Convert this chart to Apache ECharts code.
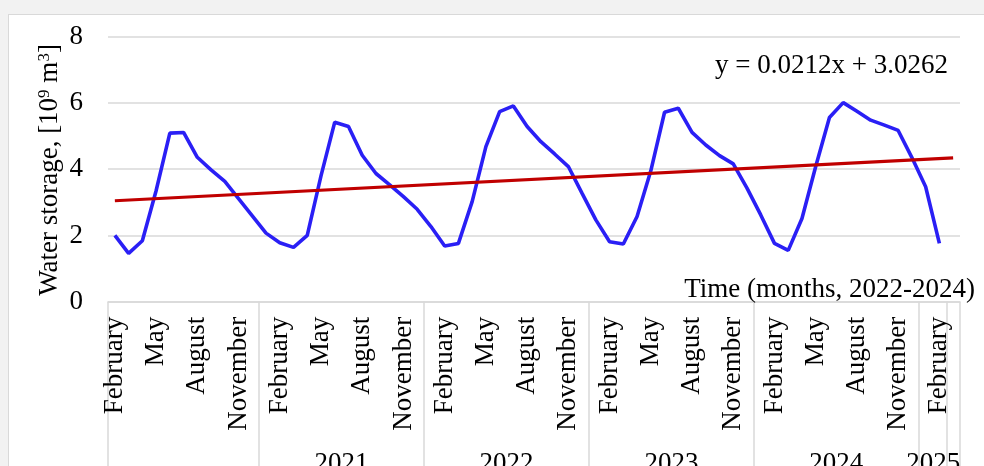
<!DOCTYPE html>
<html>
<head>
<meta charset="utf-8">
<script src="https://cdn.jsdelivr.net/npm/echarts@6/dist/echarts.min.js"></script>
<style>
  html, body { margin: 0; padding: 0; width: 984px; height: 466px; overflow: hidden; background: #f2f2f2; }
  #chart { position: absolute; left: 8px; top: 14px; width: 976px; height: 452px; background: #fff;
           border-left: 1px solid #d9d9d9; border-top: 1px solid #d9d9d9; box-sizing: border-box; }
</style>
</head>
<body>
<div id="chart"></div>
<script>
// Monthly categories (the last slot is the trendline's one-period forward forecast)
const categories = [
  'February','March','April','May','June','July','August','September','October','November','December',
  'January','February','March','April','May','June','July','August','September','October','November','December',
  'January','February','March','April','May','June','July','August','September','October','November','December',
  'January','February','March','April','May','June','July','August','September','October','November','December',
  'January','February','March','April','May','June','July','August','September','October','November','December',
  'January','February','March'
];

// Year groups on the second label row: first category index of each group
const yearLabels = ['', '2021', '2022', '2023', '2024', '2025'];
const yearStarts = [0, 11, 23, 35, 47, 59];

// Water storage, 10^9 m^3
const storage = [
  2.00, 1.46, 1.84, 3.35, 5.09, 5.11, 4.36, 3.98, 3.63, 3.11, 2.59,
  2.07, 1.78, 1.64, 2.00, 3.80, 5.42, 5.29, 4.42, 3.87, 3.53, 3.17, 2.79,
  2.27, 1.68, 1.76, 3.02, 4.68, 5.74, 5.91, 5.29, 4.83, 4.46, 4.08, 3.27,
  2.47, 1.81, 1.74, 2.57, 3.95, 5.72, 5.84, 5.11, 4.73, 4.41, 4.16, 3.43,
  2.62, 1.76, 1.55, 2.51, 4.08, 5.56, 6.01, 5.75, 5.48, 5.33, 5.17, 4.35,
  3.47, 1.76, null
];

// Linear trendline y = a*x + b (x = 1 for the first month)
const trendSlope = 0.0212;
const trendIntercept = 3.0262;

const yTicks = { min: 0, max: 8, interval: 2 };

const FONT = '"Liberation Serif", "Times New Roman", serif';
const FONT_SIZE = 27;
const GRID_COLOR = '#d9d9d9';

const n = categories.length;
const trend = categories.map(() => null);
trend[0] = trendSlope * 1 + trendIntercept;
trend[n - 1] = trendSlope * n + trendIntercept;

// Boundaries of the year groups, plus the forecast slot and the axis end
const groupTicks = yearStarts.concat([n - 1, n]);
// Centre of each year group; the last label is kept inside the axis end
const yearLabelPos = yearStarts.map((s, i) => {
  const e = i + 1 < yearStarts.length ? yearStarts[i + 1] : n;
  return Math.min((s + e) / 2, n - 1.95);
});

const chart = echarts.init(document.getElementById('chart'), null, { renderer: 'canvas' });

chart.setOption({
  animation: false,
  backgroundColor: '#fff',
  grid: { left: 99, right: 24, top: 21.7, bottom: 164.3, containLabel: false, outerBoundsMode: 'none' },
  xAxis: [
    {
      type: 'category',
      data: categories,
      boundaryGap: true,
      axisLine: { show: true, lineStyle: { color: GRID_COLOR, width: 1.5 } },
      axisTick: { show: false },
      axisLabel: {
        rotate: 90,
        margin: 15,
        fontSize: FONT_SIZE,
        fontFamily: FONT,
        color: '#000',
        interval: (idx) => idx % 3 === 0 && idx < n - 1
      },
      splitLine: { show: false }
    },
    {
      type: 'value',
      min: 0,
      max: n,
      position: 'bottom',
      axisLine: { show: false },
      splitLine: { show: false },
      axisTick: {
        show: true,
        customValues: groupTicks,
        length: 165,
        lineStyle: { color: GRID_COLOR, width: 1.5 }
      },
      axisLabel: {
        customValues: yearLabelPos,
        margin: 149,
        fontSize: FONT_SIZE,
        fontFamily: FONT,
        color: '#000',
        formatter: (v) => {
          const i = yearLabelPos.findIndex(p => Math.abs(p - v) < 1e-6);
          return i >= 0 ? yearLabels[i] : '';
        }
      }
    }
  ],
  yAxis: {
    type: 'value',
    min: yTicks.min,
    max: yTicks.max,
    interval: yTicks.interval,
    axisLine: { show: false },
    axisTick: { show: false },
    axisLabel: { fontSize: FONT_SIZE, fontFamily: FONT, color: '#000', margin: 25 },
    splitLine: { lineStyle: { color: GRID_COLOR, width: 1.5 } }
  },
  title: {
    text: 'Time (months, 2022-2024)',
    right: 9,
    top: 261,
    padding: 0,
    textStyle: { fontSize: FONT_SIZE, fontFamily: FONT, fontWeight: 'normal', color: '#000' }
  },
  graphic: [
    {
      type: 'text',
      right: 36,
      top: 37,
      style: {
        text: 'y = ' + trendSlope.toFixed(4) + 'x + ' + trendIntercept.toFixed(4),
        fontSize: FONT_SIZE,
        fontFamily: FONT,
        fill: '#000'
      }
    },
    {
      type: 'text',
      x: 41,
      y: 155,
      rotation: Math.PI / 2,
      style: {
        text: 'Water storage, [10{sup|9} m{sup|3}]',
        fontSize: FONT_SIZE,
        fontFamily: FONT,
        fill: '#000',
        align: 'center',
        verticalAlign: 'middle',
        rich: {
          sup: { fontSize: 17, fontFamily: FONT, fill: '#000', verticalAlign: 'top' }
        }
      }
    }
  ],
  series: [
    {
      name: 'Water storage',
      type: 'line',
      data: storage,
      symbol: 'none',
      lineStyle: { color: '#2a1ff5', width: 3.6 },
      itemStyle: { color: '#2a1ff5' },
      z: 3
    },
    {
      name: 'Linear trend',
      type: 'line',
      data: trend,
      connectNulls: true,
      symbol: 'none',
      lineStyle: { color: '#c00000', width: 3.2 },
      itemStyle: { color: '#c00000' },
      z: 4
    }
  ]
});
</script>
</body>
</html>
